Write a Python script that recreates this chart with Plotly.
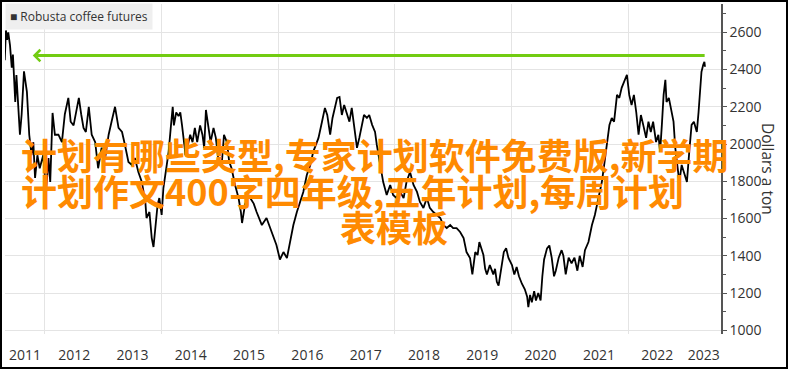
import numpy as np
import pandas as pd
import plotly.graph_objects as go

# ---------------- data ----------------
series_name = "Robusta coffee futures"
y_title = "Dollars a ton"

year_frac = [
    2011.31, 2011.33, 2011.35, 2011.37, 2011.40, 2011.43, 2011.45, 2011.49, 2011.51, 2011.57,
    2011.60, 2011.64, 2011.69, 2011.73, 2011.77, 2011.80, 2011.83, 2011.87, 2011.91, 2011.97,
    2012.02, 2012.06, 2012.09, 2012.13, 2012.17, 2012.23, 2012.29, 2012.34, 2012.40, 2012.44,
    2012.49, 2012.53, 2012.58, 2012.62, 2012.66, 2012.70, 2012.75, 2012.80, 2012.86, 2012.91,
    2012.97, 2013.03, 2013.09, 2013.14, 2013.20, 2013.26, 2013.32, 2013.37, 2013.43, 2013.49,
    2013.54, 2013.60, 2013.66, 2013.72, 2013.74, 2013.79, 2013.83, 2013.86, 2013.89, 2013.93,
    2013.96, 2014.00, 2014.03, 2014.08, 2014.12, 2014.16, 2014.19, 2014.21, 2014.25, 2014.29,
    2014.32, 2014.35, 2014.37, 2014.41, 2014.44, 2014.49, 2014.53, 2014.57, 2014.61, 2014.66,
    2014.70, 2014.73, 2014.76, 2014.80, 2014.84, 2014.89, 2014.93, 2014.97, 2015.03, 2015.07,
    2015.12, 2015.16, 2015.20, 2015.26, 2015.32, 2015.36, 2015.38, 2015.43, 2015.49, 2015.52,
    2015.58, 2015.63, 2015.72, 2015.80, 2015.89, 2015.97, 2016.03, 2016.09, 2016.15, 2016.20,
    2016.26, 2016.32, 2016.37, 2016.43, 2016.49, 2016.55, 2016.60, 2016.69, 2016.75, 2016.80,
    2016.84, 2016.89, 2016.93, 2016.97, 2017.01, 2017.05, 2017.09, 2017.13, 2017.17, 2017.22,
    2017.26, 2017.30, 2017.35, 2017.39, 2017.43, 2017.47, 2017.52, 2017.56, 2017.61, 2017.66,
    2017.69, 2017.75, 2017.80, 2017.86, 2017.92, 2017.97, 2018.03, 2018.09, 2018.15, 2018.20,
    2018.26, 2018.32, 2018.38, 2018.43, 2018.49, 2018.55, 2018.60, 2018.66, 2018.72, 2018.78,
    2018.83, 2018.89, 2018.95, 2019.00, 2019.06, 2019.12, 2019.18, 2019.23, 2019.29, 2019.33,
    2019.38, 2019.42, 2019.45, 2019.52, 2019.55, 2019.58, 2019.63, 2019.69, 2019.72, 2019.75,
    2019.78, 2019.83, 2019.87, 2019.91, 2019.95, 2020.01, 2020.05, 2020.09, 2020.13, 2020.18,
    2020.23, 2020.27, 2020.29, 2020.32, 2020.35, 2020.39, 2020.42, 2020.46, 2020.50, 2020.53,
    2020.56, 2020.61, 2020.65, 2020.69, 2020.73, 2020.76, 2020.81, 2020.86, 2020.89, 2020.93,
    2020.98, 2021.03, 2021.08, 2021.13, 2021.17, 2021.22, 2021.26, 2021.32, 2021.38, 2021.43,
    2021.49, 2021.55, 2021.59, 2021.63, 2021.68, 2021.72, 2021.76, 2021.81, 2021.85, 2021.89,
    2021.93, 2021.98, 2022.02, 2022.06, 2022.10, 2022.14, 2022.18, 2022.22, 2022.26, 2022.31,
    2022.35, 2022.39, 2022.43, 2022.48, 2022.52, 2022.55, 2022.58, 2022.61, 2022.64, 2022.66,
    2022.70, 2022.75, 2022.78, 2022.81, 2022.85, 2022.88, 2022.92, 2022.96, 2023.01, 2023.05,
    2023.09, 2023.13, 2023.18, 2023.21, 2023.24, 2023.26, 2023.29, 2023.31, 2023.32,
]

price = [
    2450, 2610, 2560, 2600, 2530, 2410, 2480, 2226, 2370, 2050,
    2160, 2390, 2280, 2050, 1940, 2010, 1818, 1940, 1870, 1940,
    1743, 1925, 1796, 2167, 2050, 2050, 2010, 2160, 2248, 2120,
    2100, 2170, 2248, 2160, 2087, 2065, 2200, 2050, 2010, 1870,
    1980, 1925, 2050, 2120, 2200, 2087, 2065, 1995, 1904, 1888,
    1925, 1850, 1796, 1689, 1603, 1635, 1495, 1447, 1549, 1673,
    1710, 1619, 1764, 1870, 1958, 2100, 2200, 2100, 2170, 2150,
    2170, 2100, 2033, 1940, 1980, 2050, 2010, 2087, 2010, 2100,
    2050, 1980, 2183, 2100, 2010, 2087, 2033, 1925, 1888, 2050,
    2010, 1904, 1870, 1780, 1710, 1635, 1576, 1673, 1727, 1710,
    1680, 1635, 1565, 1603, 1528, 1458, 1380, 1420, 1388, 1474,
    1565, 1635, 1689, 1743, 1834, 1888, 1958, 2033, 2120, 2194,
    2156, 2050, 2140, 2194, 2248, 2253, 2156, 2210, 2172, 2120,
    2194, 2103, 1980, 2033, 2103, 2156, 2140, 2156, 2103, 2065,
    1995, 1888, 1796, 1727, 1780, 1727, 1710, 1743, 1710, 1796,
    1850, 1780, 1743, 1689, 1657, 1710, 1657, 1635, 1619, 1603,
    1565, 1549, 1565, 1549, 1549, 1528, 1495, 1420, 1388, 1300,
    1420, 1404, 1474, 1404, 1330, 1300, 1350, 1300, 1330, 1260,
    1240, 1330, 1420, 1440, 1388, 1350, 1300, 1340, 1290, 1250,
    1220, 1180, 1124, 1190, 1150, 1210, 1160, 1200, 1160, 1290,
    1380, 1440, 1455, 1390, 1290, 1320, 1390, 1430, 1400, 1300,
    1390, 1360, 1390, 1320, 1400, 1340, 1430, 1474, 1565, 1619,
    1710, 1796, 1888, 1995, 2103, 2140, 2120, 2264, 2248, 2302,
    2329, 2372, 2264, 2210, 2264, 2172, 2050, 2156, 2103, 2033,
    2120, 2065, 2120, 2011, 2050, 1958, 2103, 2264, 2345, 2226,
    2248, 2172, 2120, 1980, 1888, 1796, 1888, 1850, 1796, 1958,
    2103, 2120, 2065, 2172, 2280, 2388, 2425, 2441, 2415,
]

year_labels = [str(y) for y in range(2011, 2024)]
grid_years = [2012, 2014, 2016, 2018, 2020, 2022]
y_ticks = [1000, 1200, 1400, 1600, 1800, 2000, 2200, 2400, 2600]
y_minor = [1100, 1300, 1500, 1700, 1900, 2100, 2300, 2500, 2700]

x_start, x_end = 2011.314, 2023.595
y_range = [980, 2752]

arrow_level = 2475
arrow_from, arrow_to = 2023.34, 2011.79

overlay_lines = [
    "计划有哪些类型,专家计划软件免费版,新学期",
    "计划作文400字四年级,五年计划,每周计划",
    "表模板",
]


def frac_to_date(fy):
    y = int(np.floor(fy))
    s = pd.Timestamp(year=y, month=1, day=1)
    e = pd.Timestamp(year=y + 1, month=1, day=1)
    return s + (e - s) * (fy - y)


dates = [frac_to_date(v) for v in year_frac]

# ---------------- layout geometry ----------------
W, H = 790, 372
ML, MR, MT, MB = 5, 69, 4, 38
PW, PH = W - ML - MR, H - MT - MB


def px(x):
    return (x - ML) / PW


def py(y):
    return (H - MB - y) / PH


# tick label positions: middle of visible part of each year
tick_vals, tick_text = [], []
for lab in year_labels:
    yr = int(lab)
    a = max(yr, x_start)
    b = min(yr + 1, x_end)
    tick_vals.append(frac_to_date((a + b) / 2))
    tick_text.append(lab)

fig = go.Figure()
fig.add_trace(go.Scatter(
    x=dates, y=price, mode="lines", name=series_name,
    line=dict(color="#000000", width=1.8), showlegend=False,
))

tick_font = dict(family="Open Sans, Noto Sans, sans-serif", size=14, color="#333333")

fig.update_layout(
    width=W, height=H,
    margin=dict(l=ML, r=MR, t=MT, b=MB, pad=0),
    paper_bgcolor="white", plot_bgcolor="white",
    xaxis=dict(
        type="date",
        range=[frac_to_date(x_start), frac_to_date(x_end)],
        tickmode="array", tickvals=tick_vals, ticktext=tick_text,
        showgrid=False, zeroline=False, showline=False,
        ticks="", ticklabelstandoff=11,
        tickfont=tick_font,
        minor=dict(
            tickmode="array",
            tickvals=[frac_to_date(g) for g in grid_years],
            showgrid=True, gridcolor="#e4e4e4", gridwidth=1, ticks="",
        ),
    ),
    yaxis=dict(
        side="right", range=y_range,
        tickmode="array", tickvals=y_ticks,
        ticks="outside", ticklen=4, tickwidth=1, tickcolor="#555555",
        showline=True, linecolor="#555555", linewidth=1.5,
        showgrid=True, gridcolor="#e4e4e4", gridwidth=1,
        zeroline=False, tickfont=tick_font,
        minor=dict(tickmode="array", tickvals=y_minor, ticks="outside",
                   ticklen=3, tickcolor="#555555", showgrid=False),
    ),
)

# legend box
fig.add_annotation(
    xref="paper", yref="paper", x=px(5), y=py(3),
    xanchor="left", yanchor="top", showarrow=False,
    text="■ " + series_name, align="left",
    font=dict(family="Open Sans, Noto Sans, sans-serif", size=12, color="#333333"),
    bgcolor="#efefef", borderpad=4,
)

# y-axis title (reads top to bottom)
fig.add_annotation(
    xref="paper", yref="paper", x=px(768), y=py(169),
    xanchor="center", yanchor="middle", showarrow=False,
    text=y_title, textangle=90,
    font=dict(family="Open Sans, Noto Sans, sans-serif", size=15.5, color="#333333"),
)

# green arrow
fig.add_annotation(
    x=frac_to_date(arrow_to), y=arrow_level,
    ax=frac_to_date(arrow_from), ay=arrow_level,
    xref="x", yref="y", axref="x", ayref="y",
    showarrow=True, arrowhead=4, arrowsize=0.75, arrowwidth=3,
    arrowcolor="#72cc12", standoff=0, text="",
)

# orange overlay text
orange = "#ff8a00"
cjk_font = dict(family="Noto Sans CJK SC", size=36, color=orange, weight="bold")
fig.add_annotation(xref="paper", yref="paper", x=px(19), y=py(153.5),
                   xanchor="left", yanchor="middle", showarrow=False,
                   text=overlay_lines[0], font=cjk_font)
fig.add_annotation(xref="paper", yref="paper", x=px(19), y=py(190),
                   xanchor="left", yanchor="middle", showarrow=False,
                   text=overlay_lines[1], font=cjk_font)
fig.add_annotation(xref="paper", yref="paper", x=px(394.5), y=py(226),
                   xanchor="center", yanchor="middle", showarrow=False,
                   text=overlay_lines[2], font=cjk_font)

# outer black frame
fig.add_shape(type="rect", xref="paper", yref="paper",
              x0=px(1), x1=px(787), y0=py(368), y1=py(1),
              line=dict(color="#000000", width=2), fillcolor="rgba(0,0,0,0)",
              layer="above")

fig.write_html("out.html")
